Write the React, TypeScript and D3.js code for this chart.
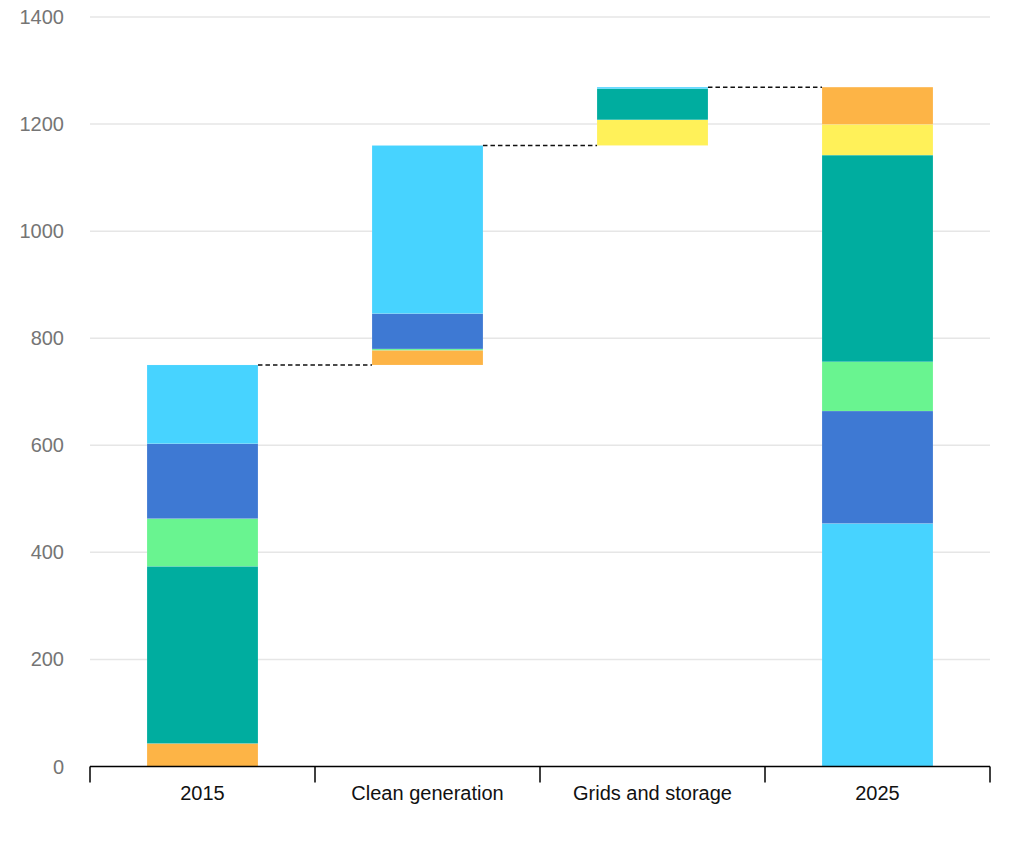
import React from "react";
import * as d3 from "d3";

const categories = ["2015", "Clean generation", "Grids and storage", "2025"];
const seriesNames = ["Solar PV", "Grids", "Storage", "Wind", "Other renewables", "Nuclear"];
const seriesColors = ["#47D3FF", "#3E79D3", "#69F490", "#00AD9F", "#FFF159", "#FDB446"];
// values per series, indexed by category
const solarPV = [147, 314, 3, 454];
const gridsS = [140, 66, 0, 210];
const storageS = [89, 2.5, 0, 92];
const windS = [331, 0, 58, 386];
const otherS = [0, 0, 48, 57.5];
const nuclearS = [43, 27.5, 0, 69.5];
const seriesValues = [solarPV, gridsS, storageS, windS, otherS, nuclearS];
// stacking order (bottom to top) for each category, by series index
const stackOrders = [
  [5, 3, 2, 1, 0],
  [5, 2, 1, 0],
  [4, 3, 0],
  [0, 1, 2, 3, 4, 5],
];
const isTotal = [true, false, false, true];
const yTicks = [0, 200, 400, 600, 800, 1000, 1200, 1400];

const W = 1024;
const H = 853;
const x0 = 90, x1 = 990;
const y0 = 766.5, y1 = 17;

export default function App() {
  const x = d3.scaleBand<string>().domain(categories).range([x0, x1]).padding(0);
  const y = d3.scaleLinear().domain([0, 1400]).range([y0, y1]);
  const bw = x.bandwidth() * 0.493;

  const bases: number[] = [];
  const tops: number[] = [];
  let running = 0;
  categories.forEach((c, i) => {
    const total = stackOrders[i].reduce((s, k) => s + seriesValues[k][i], 0);
    const base = isTotal[i] ? 0 : running;
    bases.push(base);
    tops.push(base + total);
    running = base + total;
  });

  const segs: React.ReactNode[] = [];
  categories.forEach((c, i) => {
    let acc = bases[i];
    const bx = (x(c) as number) + (x.bandwidth() - bw) / 2;
    stackOrders[i].forEach((k) => {
      const v = seriesValues[k][i];
      if (v <= 0) return;
      const yTop = y(acc + v);
      const yBot = y(acc);
      segs.push(
        <rect
          key={`${i}-${k}`}
          x={bx}
          y={yTop}
          width={bw}
          height={yBot - yTop}
          fill={seriesColors[k]}
          stroke="rgba(255,255,255,0.2)"
          strokeWidth={0.5}
        >
          <title>{`${seriesNames[k]}: ${v}`}</title>
        </rect>
      );
      acc += v;
    });
  });

  const connectors = categories.slice(0, -1).map((c, i) => {
    const xa = (x(c) as number) + (x.bandwidth() + bw) / 2;
    const xb = (x(categories[i + 1]) as number) + (x.bandwidth() - bw) / 2;
    const yy = y(tops[i]);
    return (
      <line key={`d${i}`} x1={xa} x2={xb} y1={yy} y2={yy} stroke="#111" strokeWidth={1.5} strokeDasharray="4.5,3" />
    );
  });

  const tickXs = [...categories.map((c) => x(c) as number), x1];

  return (
    <svg
      width={W}
      height={H}
      style={{ position: "absolute", left: 0, top: 0, background: "#fff" }}
      fontFamily="'Liberation Sans', Arial, sans-serif"
    >
      {yTicks.map((t) => (
        <g key={t}>
          {t > 0 && <line x1={x0} x2={x1} y1={y(t)} y2={y(t)} stroke="#e6e6e6" strokeWidth={1.5} />}
          <text x={64} y={y(t)} dy="0.35em" textAnchor="end" fontSize={20} fill="#757575">
            {t}
          </text>
        </g>
      ))}
      {segs}
      {connectors}
      <line x1={x0} x2={x1} y1={y0} y2={y0} stroke="#000" strokeWidth={1.5} />
      {tickXs.map((tx, i) => (
        <line key={`t${i}`} x1={tx} x2={tx} y1={y0} y2={y0 + 16} stroke="#000" strokeWidth={1.5} />
      ))}
      {categories.map((c) => (
        <text
          key={c}
          x={(x(c) as number) + x.bandwidth() / 2}
          y={800}
          textAnchor="middle"
          fontSize={20}
          fill="#111"
        >
          {c}
        </text>
      ))}
    </svg>
  );
}
